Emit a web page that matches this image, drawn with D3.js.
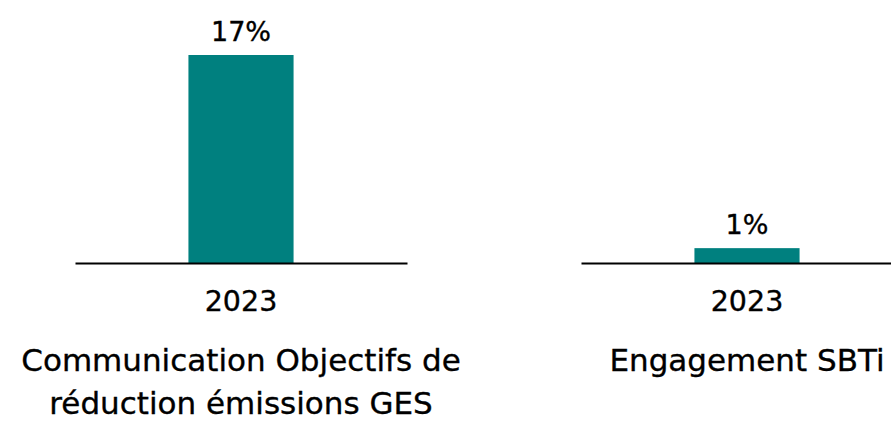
<!DOCTYPE html>
<html>
<head>
<meta charset="utf-8">
<script src="https://cdn.jsdelivr.net/npm/d3@7"></script>
<style>
  body { margin: 0; background: #fff; }
  text { font-family: "DejaVu Sans", sans-serif; fill: #000; stroke: #000; stroke-width: 0.35px; }
</style>
</head>
<body>
<svg id="chart" width="891" height="421"></svg>
<script>
// data
const years = ['2023'];
const panelTitles = [
  ['Communication Objectifs de', 'réduction émissions GES'],
  ['Engagement SBTi']
];
const panelValues = [[16.8], [1.2]];

const svg = d3.select('#chart');
const panelWidth = 332;
const baseY = 263;
const panelX = [75, 581];

const yScale = d3.scaleLinear()
  .domain([0, 16.8])
  .range([baseY, 55]);

const fmt = v => d3.format('.0f')(v) + '%';

panelTitles.forEach((title, i) => {
  const g = svg.append('g')
    .attr('transform', `translate(${panelX[i]},0)`);

  const xScale = d3.scaleBand()
    .domain(years)
    .range([0, panelWidth])
    .padding(0.519);

  const data = years.map((y, j) => ({ year: y, value: panelValues[i][j] }));

  g.selectAll('.bar')
    .data(data)
    .enter()
    .append('rect')
    .attr('class', 'bar')
    .attr('x', d => xScale(d.year))
    .attr('y', d => yScale(d.value))
    .attr('width', xScale.bandwidth())
    .attr('height', d => baseY - yScale(d.value))
    .style('fill', '#00807f');

  g.selectAll('.val')
    .data(data)
    .enter()
    .append('text')
    .attr('class', 'val')
    .attr('text-anchor', 'middle')
    .attr('x', d => xScale(d.year) + xScale.bandwidth() / 2)
    .attr('y', d => yScale(d.value) - 14)
    .style('font-size', '27px')
    .text(d => fmt(d.value));

  const axis = g.append('g')
    .attr('transform', `translate(0,${baseY})`)
    .call(d3.axisBottom(xScale).tickSize(0).tickSizeOuter(0));
  axis.select('.domain')
    .attr('stroke', '#000')
    .attr('stroke-width', 2);
  axis.selectAll('.tick text')
    .attr('y', 48)
    .attr('dy', 0)
    .style('font-family', '"DejaVu Sans", sans-serif')
    .style('font-size', '28.5px')
    .attr('fill', '#000');

  const cx = xScale(years[0]) + xScale.bandwidth() / 2;
  const t = g.append('text')
    .attr('text-anchor', 'middle')
    .style('font-size', '31px');
  title.forEach((line, k) => {
    t.append('tspan')
      .attr('x', cx)
      .attr('y', 371 + k * 43)
      .text(line);
  });
});
</script>
</body>
</html>
